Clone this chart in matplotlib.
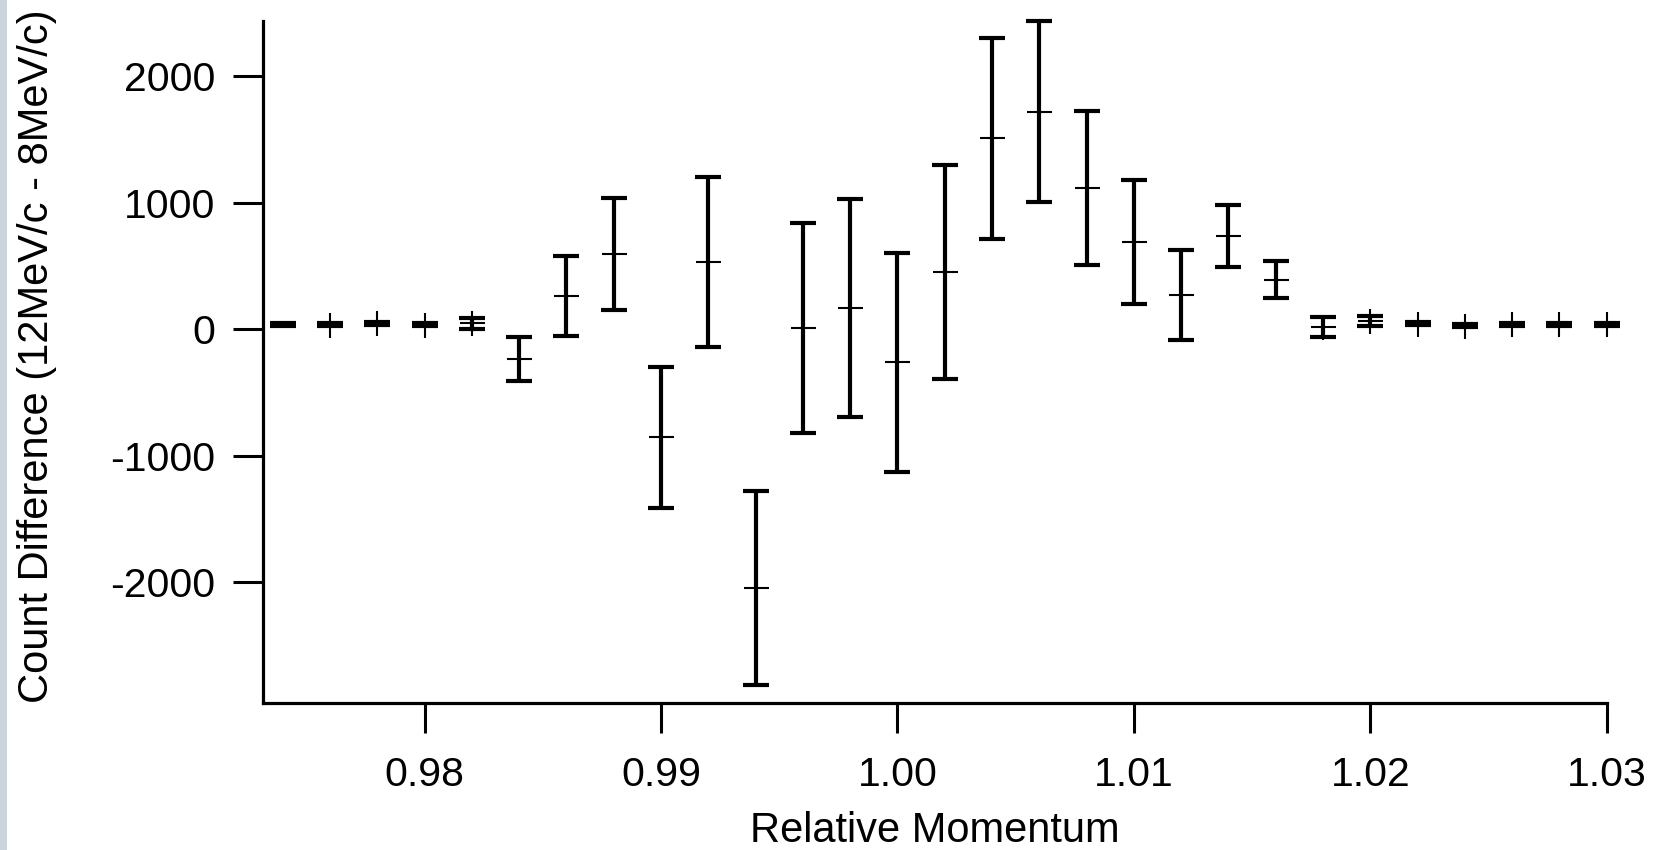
import matplotlib
matplotlib.use("Agg")
import matplotlib.pyplot as plt
import numpy as np
from matplotlib.patches import Rectangle

plt.rcParams["font.family"] = ["Liberation Sans", "DejaVu Sans"]

# relative momentum bins and count difference with errors
momentum = [0.974, 0.976, 0.978, 0.980, 0.982, 0.984, 0.986, 0.988, 0.990, 0.992,
            0.994, 0.996, 0.998, 1.000, 1.002, 1.004, 1.006, 1.008, 1.010, 1.012,
            1.014, 1.016, 1.018, 1.020, 1.022, 1.024, 1.026, 1.028, 1.030]
count_diff = [40, 35, 45, 35, 46, -235, 260, 595, -855, 528,
              -2046, 8, 168, -262, 453, 1507, 1718, 1117, 688, 268,
              736, 392, 20, 68, 44, 28, 38, 38, 38]
count_err = [12, 12, 12, 12, 45, 172, 315, 440, 560, 670,
             768, 830, 864, 866, 843, 792, 714, 608, 488, 356,
             248, 148, 80, 40, 12, 12, 12, 12, 12]

yticks = [-2000, -1000, 0, 1000, 2000]
xticks = [0.98, 0.99, 1.00, 1.01, 1.02, 1.03]

fig = plt.figure(figsize=(16.65, 8.5), dpi=100)
ax = fig.add_axes([0.158, 0.173, 0.807, 0.802])

ax.errorbar(momentum, count_diff, yerr=count_err, fmt="none", ecolor="black",
            elinewidth=3.0, capsize=9.4, capthick=3.0, clip_on=False)
# thin centre crosses (not on the first bin)
ax.plot(momentum[1:], count_diff[1:], linestyle="none", marker="+", color="black",
        markersize=18, markeredgewidth=1.5, clip_on=False)

ax.set_xlim(0.97317, 1.030)
ax.set_ylim(-2952, 2432)
ax.set_xticks(xticks)
ax.set_xticklabels([f"{t:.2f}" for t in xticks])
ax.set_yticks(yticks)
ax.set_yticklabels([str(t) for t in yticks])

for side in ("top", "right"):
    ax.spines[side].set_visible(False)
for side in ("left", "bottom"):
    ax.spines[side].set_linewidth(2.3)

ax.tick_params(axis="both", direction="out", length=21.5, width=2.2,
               labelsize=29.5, colors="black")
ax.tick_params(axis="x", pad=17)
ax.tick_params(axis="y", pad=13)

ax.set_xlabel("Relative Momentum", fontsize=30, labelpad=12)
ax.set_ylabel("Count Difference (12MeV/c - 8MeV/c)", fontsize=30)
ax.yaxis.set_label_coords(-0.153, 0.508)

# light strip along the left edge
fig.patches.append(Rectangle((0, 0), 0.0045, 1, transform=fig.transFigure,
                             facecolor="#c9d4dc", edgecolor="none", zorder=0))

fig.savefig("out.png", dpi=100)
